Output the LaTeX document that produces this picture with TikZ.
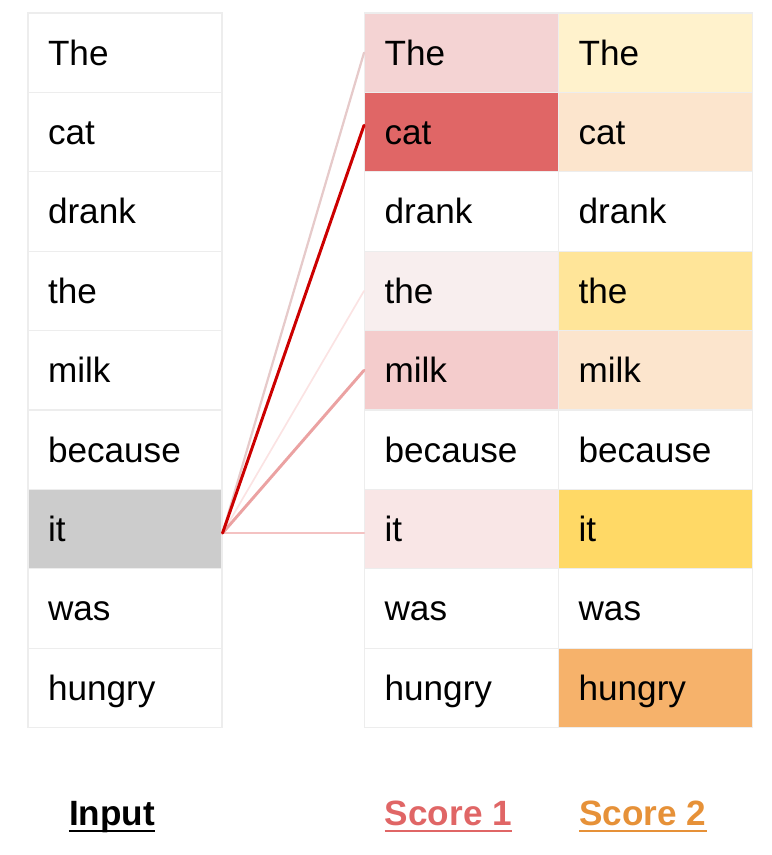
\documentclass[tikz,border=0pt]{standalone}
\usepackage{fontspec}
\setmainfont{Liberation Sans}
\usepackage{tikz}
\definecolor{cellline}{HTML}{EDEDED}
\definecolor{itgray}{HTML}{CCCCCC}
\definecolor{redThe}{HTML}{F4D3D3}
\definecolor{redCat}{HTML}{E06666}
\definecolor{redthe}{HTML}{F8EEEE}
\definecolor{redMilk}{HTML}{F4CCCC}
\definecolor{redIt}{HTML}{F9E6E6}
\definecolor{yelThe}{HTML}{FFF2CC}
\definecolor{orgCat}{HTML}{FCE5CD}
\definecolor{yelthe}{HTML}{FFE599}
\definecolor{yelIt}{HTML}{FFD966}
\definecolor{orgHungry}{HTML}{F6B26B}
\definecolor{scoreone}{HTML}{E06666}
\definecolor{scoretwo}{HTML}{E69138}
\definecolor{lnThe}{HTML}{E6CACA}
\definecolor{lnCat}{HTML}{CC0000}
\definecolor{lnthe}{HTML}{FBE3E3}
\definecolor{lnMilk}{HTML}{EBA2A2}
\definecolor{lnIt}{HTML}{F4C2C2}

\begin{document}
\begin{tikzpicture}[
  cell/.style={draw=cellline, line width=0.8pt, minimum height=1.985cm,
    text width=3.85cm, inner xsep=0.5cm, inner ysep=0pt, text height=0.62cm,
    text depth=0pt, align=left, font=\fontsize{25}{30}\selectfont},
  head/.style={anchor=base, inner sep=0pt, font=\fontsize{25}{30}\selectfont\bfseries},
  link/.style={line cap=round}]
\useasboundingbox (0,0) rectangle (19.3,21.375);

% input column
\node[cell] (in1) at (3.125,20.058) {The};
\node[cell] (in2) at (3.125,18.073) {cat};
\node[cell] (in3) at (3.125,16.088) {drank};
\node[cell] (in4) at (3.125,14.103) {the};
\node[cell] (in5) at (3.125,12.118) {milk};
\node[cell] (in6) at (3.125,10.133) {because};
\node[cell, fill=itgray] (in7) at (3.125,8.148) {it};
\node[cell] (in8) at (3.125,6.163) {was};
\node[cell] (in9) at (3.125,4.178) {hungry};

% score 1 column
\node[cell, fill=redThe] (sa1) at (11.54,20.058) {The};
\node[cell, fill=redCat] (sa2) at (11.54,18.073) {cat};
\node[cell] (sa3) at (11.54,16.088) {drank};
\node[cell, fill=redthe] (sa4) at (11.54,14.103) {the};
\node[cell, fill=redMilk] (sa5) at (11.54,12.118) {milk};
\node[cell] (sa6) at (11.54,10.133) {because};
\node[cell, fill=redIt] (sa7) at (11.54,8.148) {it};
\node[cell] (sa8) at (11.54,6.163) {was};
\node[cell] (sa9) at (11.54,4.178) {hungry};

% score 2 column
\node[cell, fill=yelThe] (sb1) at (16.39,20.058) {The};
\node[cell, fill=orgCat] (sb2) at (16.39,18.073) {cat};
\node[cell] (sb3) at (16.39,16.088) {drank};
\node[cell, fill=yelthe] (sb4) at (16.39,14.103) {the};
\node[cell, fill=orgCat] (sb5) at (16.39,12.118) {milk};
\node[cell] (sb6) at (16.39,10.133) {because};
\node[cell, fill=yelIt] (sb7) at (16.39,8.148) {it};
\node[cell] (sb8) at (16.39,6.163) {was};
\node[cell, fill=orgHungry] (sb9) at (16.39,4.178) {hungry};

% attention links from "it"
\coordinate (src) at ([yshift=-0.1cm]in7.east);
\draw [link, lnthe, line width=1.2pt] (src) -- (sa4.west);
\draw [link, lnThe, line width=1.6pt] (src) -- (sa1.west);
\draw [link, lnIt, line width=1.7pt] (src) -- ([yshift=-0.1cm]sa7.west);
\draw [link, lnMilk, line width=2.1pt] (src) -- (sa5.west);
\draw [link, lnCat, line width=2.1pt] (src) -- ([yshift=0.17cm]sa2.west);

% column titles
\node[head] (tin) at (2.8,0.725) {Input};
\node[head, scoreone] (ta) at (11.21,0.725) {Score 1};
\node[head, scoretwo] (tb) at (16.075,0.725) {Score 2};
\draw [line width=1.6pt] ([yshift=-0.13cm]tin.base west) -- ([yshift=-0.13cm]tin.base east);
\draw [scoreone, line width=1.6pt] ([yshift=-0.13cm]ta.base west) -- ([yshift=-0.13cm]ta.base east);
\draw [scoretwo, line width=1.6pt] ([yshift=-0.13cm]tb.base west) -- ([yshift=-0.13cm]tb.base east);
\end{tikzpicture}
\end{document}
